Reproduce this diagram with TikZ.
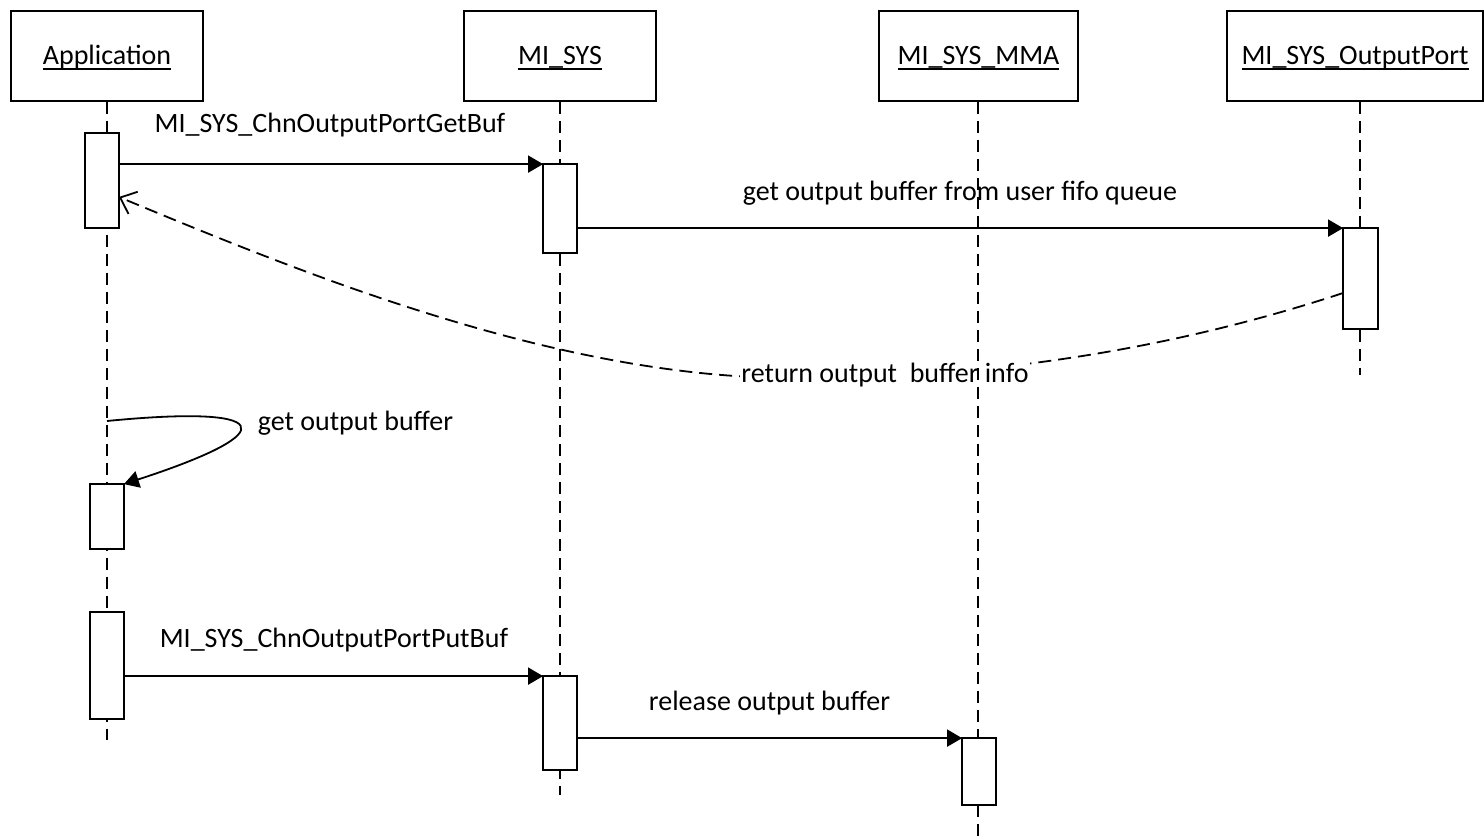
\documentclass[tikz,border=0pt]{standalone}
\usepackage{fontspec}
\setmainfont{Carlito}
\usetikzlibrary{arrows.meta}

% underlined object name in a lifeline head
\newsavebox{\headbox}
\newcommand{\headtext}[1]{\sbox\headbox{#1}\rlap{\rule[-2.4pt]{\wd\headbox}{0.7pt}}\usebox\headbox}

\begin{document}
\begin{tikzpicture}[
    x=0.5pt, y=-0.5pt,
    line width=0.9pt,
    font=\fontsize{14}{17}\selectfont,
    head/.style={draw, minimum height=45pt, inner sep=0pt, text height=10pt, text depth=1pt},
    act/.style={draw, fill=white, minimum width=16pt, inner sep=0pt},
    life/.style={dash pattern=on 6pt off 3.5pt},
    msg/.style={-{Triangle[length=7.5pt,width=8.5pt]}},
    ret/.style={dash pattern=on 6.5pt off 3.5pt, -{Straight Barb[length=7pt,width=12pt]}},
    lbl/.style={anchor=base, inner sep=0pt}
  ]
  \useasboundingbox (0,0) rectangle (1484,840);

  % lifeline heads
  \node[head, minimum width=96pt]   (app)  at (107,56)    {\headtext{Application}};
  \node[head, minimum width=96pt]   (sys)  at (560,56)    {\headtext{MI\_SYS}};
  \node[head, minimum width=99.5pt] (mma)  at (978.5,56)  {\headtext{MI\_SYS\_MMA}};
  \node[head, minimum width=128pt]  (port) at (1355,56)   {\headtext{MI\_SYS\_OutputPort}};

  % lifeline ends
  \coordinate (append)  at (107,740);
  \coordinate (sysend)  at (560,795);
  \coordinate (mmaend)  at (978,840);
  \coordinate (portend) at (1360,375);

  % activation bars (positions only; drawn after the lifelines)
  \path
    (102,180.5)  node[act, minimum height=46.5pt] (a1) {}
    (560,208.5)  node[act, minimum height=43.5pt] (s1) {}
    (1360.5,278.5) node[act, minimum width=16.5pt, minimum height=49.5pt] (o1) {}
    (107,516.5)  node[act, minimum height=31.5pt] (a2) {}
    (107,665.5)  node[act, minimum height=52.5pt] (a3) {}
    (560,723)    node[act, minimum height=46pt]   (s2) {}
    (979,771.5)  node[act, minimum height=32.5pt] (m1) {};

  % dashed return message
  \coordinate (retlow) at (800,378);
  \draw[ret] ([yshift=-7.25pt]o1.west) .. controls (1164,352) and (980,378) .. (retlow)
             .. controls (560,380) and (300,272) .. ([yshift=-8.25pt]a1.east);
  \node[lbl, fill=white, inner xsep=0.5pt, inner ysep=3pt] (l3) at (885,382) {return output~ buffer info};

  % lifelines
  \draw[life] (app.south) -- (append);
  \draw[life] (sys.south) -- (sysend);
  \draw[life] (mma.south -| mmaend) -- (mmaend);
  \draw[life] (port.south -| portend) -- (portend);

  % activation bars on top of the lifelines
  \foreach \b in {a1,s1,o1,a2,a3,s2,m1}
    \draw[fill=white] (\b.north west) rectangle (\b.south east);

  % synchronous messages
  \draw[msg] (s1.north west -| a1.east) -- (s1.north west);
  \draw[msg] (o1.north west -| s1.east) -- (o1.north west);
  \draw[msg] (s2.north west -| a3.east) -- (s2.north west);
  \draw[msg] (m1.north west -| s2.east) -- (m1.north west);

  % self call
  \coordinate (selfstart) at (107,421);
  \draw[msg] (selfstart) .. controls (270,405) and (290,430) .. (a2.north east);

  % message labels
  \node[lbl] (l1) at (330,133)   {MI\_SYS\_ChnOutputPortGetBuf};
  \node[lbl] (l2) at (960,200)   {get output buffer from user fifo queue};
  \node[lbl] (l4) at (355.5,430) {get output buffer};
  \node[lbl] (l5) at (334,647)   {MI\_SYS\_ChnOutputPortPutBuf};
  \node[lbl] (l6) at (769.5,710) {release output buffer};
\end{tikzpicture}
\end{document}
